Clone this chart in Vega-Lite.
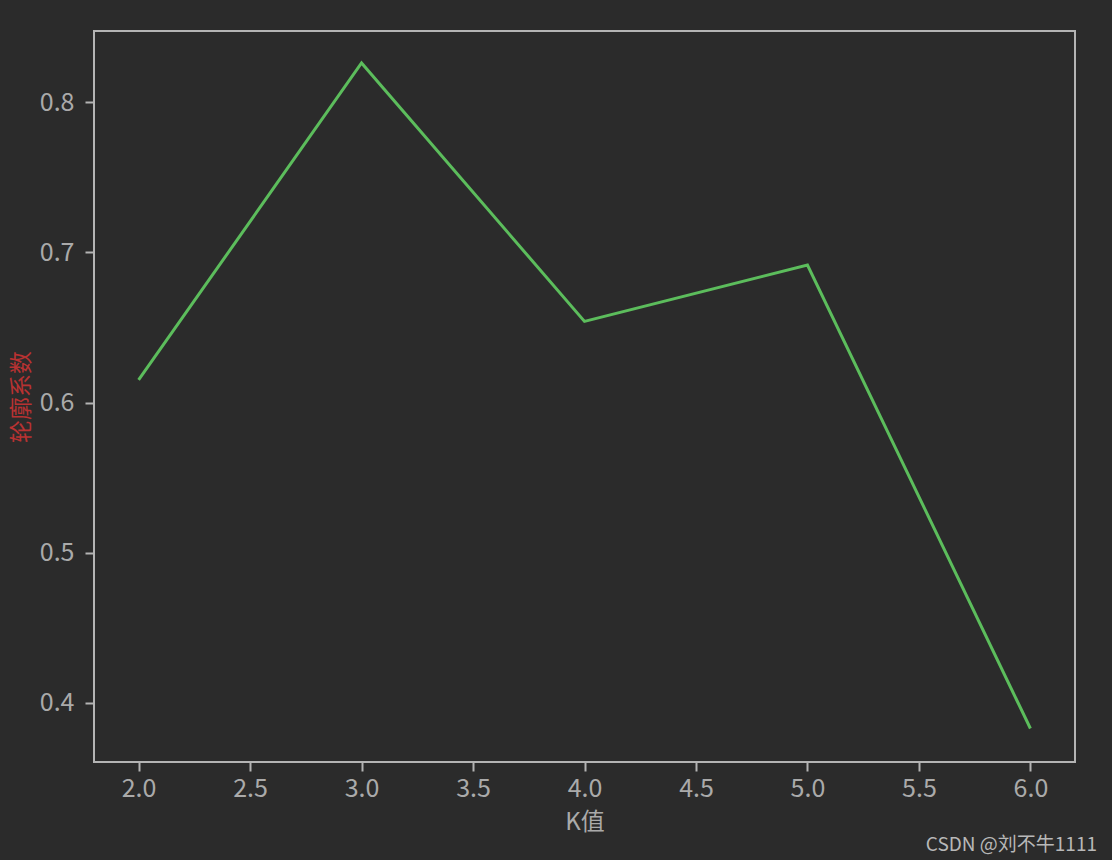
{
  "$schema": "https://vega.github.io/schema/vega-lite/v6.json",
  "width": 981,
  "height": 731,
  "autosize": {"type": "none"},
  "padding": {"left": 94, "top": 31, "right": 37, "bottom": 98},
  "background": "#2b2b2b",
  "config": {
    "view": {"stroke": "#b4b4b4", "strokeWidth": 2},
    "font": "Noto Sans CJK SC"
  },
  "title": {
    "text": "CSDN @刘不牛1111",
    "orient": "bottom",
    "anchor": "end",
    "frame": "group",
    "dx": 22,
    "offset": 2,
    "fontSize": 19,
    "fontWeight": "normal",
    "color": "#b8b8b8",
    "font": "Noto Sans CJK SC"
  },
  "data": {
    "values": [
      {"k": 2, "score": 0.615},
      {"k": 3, "score": 0.826},
      {"k": 4, "score": 0.654},
      {"k": 5, "score": 0.6915},
      {"k": 6, "score": 0.383}
    ]
  },
  "mark": {"type": "line", "color": "#5cbd5c", "strokeWidth": 3},
  "encoding": {
    "x": {
      "field": "k",
      "type": "quantitative",
      "scale": {"domain": [1.8, 6.2], "nice": false, "zero": false},
      "axis": {
        "values": [2, 2.5, 3, 3.5, 4, 4.5, 5, 5.5, 6],
        "format": ".1f",
        "title": "K值",
        "titleColor": "#aaaaaa",
        "titleFontSize": 24,
        "titleFontWeight": "normal",
        "titlePadding": 9,
        "labelColor": "#aaaaaa",
        "labelFontSize": 25,
        "labelPadding": 5,
        "tickColor": "#b4b4b4",
        "tickSize": 9,
        "tickWidth": 2,
        "domain": false,
        "grid": false
      }
    },
    "y": {
      "field": "score",
      "type": "quantitative",
      "scale": {"domain": [0.3607, 0.8473], "nice": false, "zero": false},
      "axis": {
        "values": [0.4, 0.5, 0.6, 0.7, 0.8],
        "format": ".1f",
        "title": "轮廓系数",
        "titleColor": "#b83232",
        "titleFontSize": 23,
        "titleFontWeight": "normal",
        "titlePadding": 6,
        "labelColor": "#aaaaaa",
        "labelFontSize": 25,
        "labelPadding": 11,
        "tickColor": "#b4b4b4",
        "tickSize": 9,
        "tickWidth": 2,
        "domain": false,
        "grid": false
      }
    }
  }
}
